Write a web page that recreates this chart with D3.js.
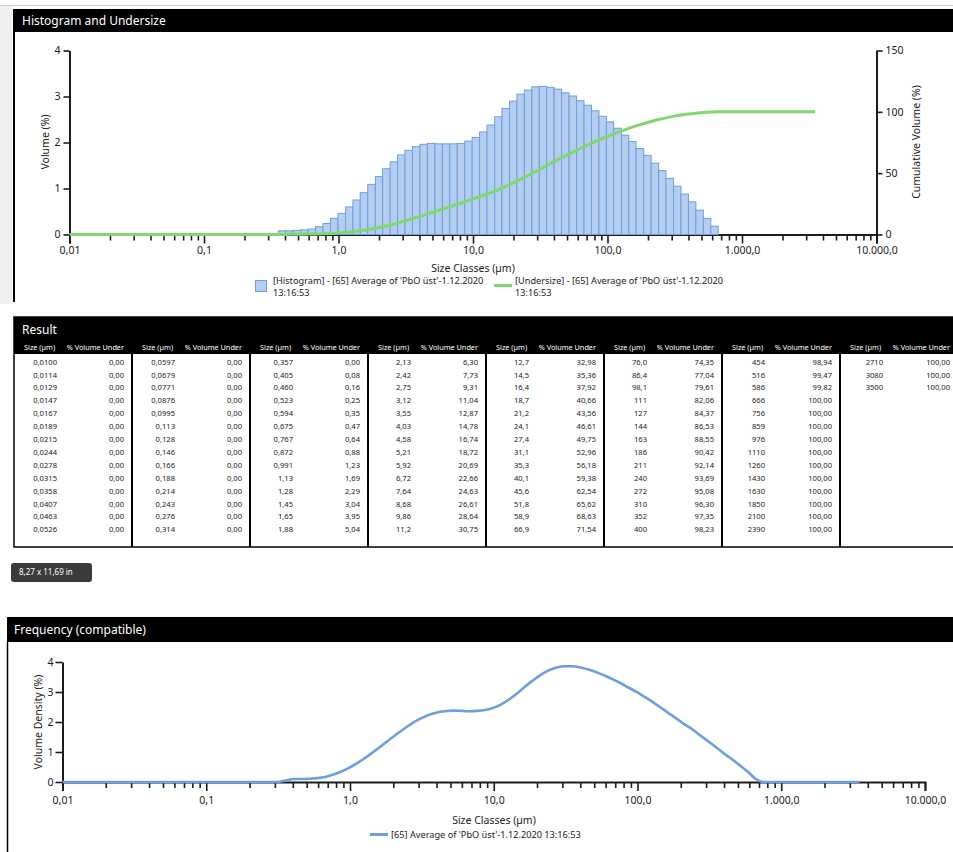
<!DOCTYPE html>
<html>
<head>
<meta charset="utf-8">
<script src="https://cdn.jsdelivr.net/npm/d3@7"></script>
<style>
  body { margin: 0; background: #fff; }
  svg text { font-family: "Noto Sans", "Open Sans", sans-serif; }
</style>
</head>
<body>
<svg id="page" width="953" height="852"></svg>
<script>
// size classes (µm) and cumulative undersize (%) as listed in the Result table
const sizeClasses = [
  0.0100, 0.0114, 0.0129, 0.0147, 0.0167, 0.0189, 0.0215, 0.0244, 0.0278, 0.0315, 0.0358, 0.0407, 0.0463, 0.0526,
  0.0597, 0.0679, 0.0771, 0.0876, 0.0995, 0.113, 0.128, 0.146, 0.166, 0.188, 0.214, 0.243, 0.276, 0.314,
  0.357, 0.405, 0.460, 0.523, 0.594, 0.675, 0.767, 0.872, 0.991, 1.13, 1.28, 1.45, 1.65, 1.88,
  2.13, 2.42, 2.75, 3.12, 3.55, 4.03, 4.58, 5.21, 5.92, 6.72, 7.64, 8.68, 9.86, 11.2,
  12.7, 14.5, 16.4, 18.7, 21.2, 24.1, 27.4, 31.1, 35.3, 40.1, 45.6, 51.8, 58.9, 66.9,
  76.0, 86.4, 98.1, 111, 127, 144, 163, 186, 211, 240, 272, 310, 352, 400,
  454, 516, 586, 666, 756, 859, 976, 1110, 1260, 1430, 1630, 1850, 2100, 2390,
  2710, 3080, 3500
];
const undersize = [
  0, 0, 0, 0, 0, 0, 0, 0, 0, 0, 0, 0, 0, 0,
  0, 0, 0, 0, 0, 0, 0, 0, 0, 0, 0, 0, 0, 0,
  0.00, 0.08, 0.16, 0.25, 0.35, 0.47, 0.64, 0.88, 1.23, 1.69, 2.29, 3.04, 3.95, 5.04,
  6.30, 7.73, 9.31, 11.04, 12.87, 14.78, 16.74, 18.72, 20.69, 22.66, 24.63, 26.61, 28.64, 30.75,
  32.98, 35.36, 37.92, 40.66, 43.56, 46.61, 49.75, 52.96, 56.18, 59.38, 62.54, 65.62, 68.63, 71.54,
  74.35, 77.04, 79.61, 82.06, 84.37, 86.53, 88.55, 90.42, 92.14, 93.69, 95.08, 96.30, 97.35, 98.23,
  98.94, 99.47, 99.82, 100, 100, 100, 100, 100, 100, 100, 100, 100, 100, 100,
  100, 100, 100
];
// volume (%) in each class, bin i spans sizeClasses[i]..sizeClasses[i+1]
const histogram = [
  0, 0, 0, 0, 0, 0, 0, 0, 0, 0, 0, 0, 0, 0, 0, 0, 0, 0, 0, 0, 0, 0, 0, 0, 0, 0, 0, 0,
  0.08, 0.08, 0.09, 0.10, 0.12, 0.17, 0.24, 0.35, 0.46, 0.60,
  0.75, 0.91, 1.09, 1.26, 1.43, 1.58, 1.73, 1.83, 1.91, 1.96,
  1.98, 1.97, 1.97, 1.97, 1.98, 2.03, 2.11, 2.23, 2.38, 2.56,
  2.74, 2.90, 3.05, 3.14, 3.21, 3.22, 3.20, 3.16, 3.08, 3.01,
  2.91, 2.81, 2.69, 2.57, 2.45, 2.31, 2.16, 2.02, 1.87, 1.72,
  1.55, 1.39, 1.22, 1.05, 0.88, 0.71, 0.53, 0.35, 0.18,
  0, 0, 0, 0, 0, 0, 0, 0, 0, 0, 0, 0, 0
];
// volume density (%), one value per size class
const density = [
  0, 0, 0, 0, 0, 0, 0, 0, 0, 0, 0, 0, 0, 0, 0, 0, 0, 0, 0, 0, 0, 0, 0, 0, 0, 0, 0, 0,
  0.05, 0.10, 0.10, 0.11, 0.13, 0.17, 0.25, 0.35, 0.48, 0.64,
  0.81, 1.00, 1.20, 1.41, 1.61, 1.80, 1.98, 2.12, 2.24, 2.32,
  2.36, 2.38, 2.37, 2.36, 2.37, 2.40, 2.47, 2.58, 2.74, 2.95,
  3.17, 3.38, 3.57, 3.72, 3.82, 3.86, 3.86, 3.82, 3.75, 3.66,
  3.55, 3.43, 3.30, 3.15, 3.01, 2.85, 2.67, 2.49, 2.31, 2.12,
  1.93, 1.76, 1.56, 1.36, 1.16, 0.95, 0.76, 0.55, 0.34, 0.10,
  0, 0, 0, 0, 0, 0, 0, 0, 0, 0, 0, 0, 0
];

const xMajor = [0.01, 0.1, 1, 10, 100, 1000, 10000];
const xTickLabels = ["0,01", "0,1", "1,0", "10,0", "100,0", "1.000,0", "10.000,0"];
const volumeTicks = [0, 1, 2, 3, 4];
const cumulativeTicks = [0, 50, 100, 150];
const sampleName = "[65] Average of 'PbO üst'-1.12.2020";
const sampleTime = "13:16:53";

const locale = d3.formatLocale({ decimal: ",", thousands: ".", grouping: [3], currency: ["", ""] });
const fmtSize = locale.format(".3r");
const fmtPct = locale.format(".2f");
const fmtInt = d3.format("d");

const svg = d3.select("#page");
const ink = "#1c1c1c";

// log ticks 1..9 per decade
const xMinor = [];
xMajor.slice(0, -1).forEach(d => { for (let k = 1; k < 10; k++) xMinor.push(d * k); });
xMinor.push(10000);

function styleAxis(g) {
  g.select(".domain").attr("stroke", ink).attr("stroke-width", 2);
  g.selectAll(".tick line").attr("stroke", ink).attr("stroke-width", 1.6);
  g.selectAll(".tick text").attr("fill", "#222").style("font-size", "10.5px");
}

function logAxis(g, x, tickLen, pad) {
  const lab = new Map(xMajor.map((d, i) => [d, xTickLabels[i]]));
  g.call(d3.axisBottom(x).tickValues(xMinor).tickSizeOuter(0).tickSize(tickLen).tickPadding(pad)
    .tickFormat(d => lab.has(+d.toPrecision(6)) ? lab.get(+d.toPrecision(6)) : ""));
  g.selectAll(".tick line").attr("y2", d => lab.has(+d.toPrecision(6)) ? tickLen : tickLen - 3);
  styleAxis(g);
}

// ---------- page chrome ----------
svg.append("line").attr("x1", 0).attr("x2", 953).attr("y1", 5.5).attr("y2", 5.5).attr("stroke", "#cfcfcf");
svg.append("rect").attr("x", 0).attr("y", 6).attr("width", 12).attr("height", 298).attr("fill", "#f0f0f0");

// ---------- panel 1: histogram and undersize ----------
svg.append("rect").attr("x", 13).attr("y", 9).attr("width", 940).attr("height", 23).attr("fill", "#000");
svg.append("text").attr("x", 22).attr("y", 21).attr("dy", "0.35em").attr("fill", "#fff")
  .style("font-size", "12px").text("Histogram and Undersize");
svg.append("line").attr("x1", 14).attr("x2", 14).attr("y1", 32).attr("y2", 302).attr("stroke", "#000").attr("stroke-width", 2);

const x1 = d3.scaleLog().domain([0.01, 10000]).range([69.5, 876.5]);
const yL = d3.scaleLinear().domain([0, 4]).range([234.5, 50.5]);
const yR = d3.scaleLinear().domain([0, 150]).range([234.5, 50.5]);

svg.append("g").attr("transform", "translate(0,234.5)").call(g => logAxis(g, x1, 9, 3));
svg.append("g").attr("transform", "translate(69.5,0)")
  .call(d3.axisLeft(yL).tickValues(volumeTicks).tickFormat(fmtInt).tickSize(6).tickPadding(3).tickSizeOuter(0))
  .call(styleAxis);
svg.append("g").attr("transform", "translate(876.5,0)")
  .call(d3.axisRight(yR).tickValues(cumulativeTicks).tickFormat(fmtInt).tickSize(6).tickPadding(3).tickSizeOuter(0))
  .call(styleAxis);

svg.append("g").selectAll("rect")
  .data(histogram)
  .join("rect")
  .attr("x", (d, i) => x1(sizeClasses[i]))
  .attr("width", (d, i) => x1(sizeClasses[i + 1]) - x1(sizeClasses[i]))
  .attr("y", d => yL(d))
  .attr("height", d => yL(0) - yL(d))
  .attr("fill", "#b5cef0")
  .attr("stroke", "#6e9fe2")
  .attr("stroke-width", 1);

svg.append("path")
  .datum(sizeClasses.map((s, i) => [s, undersize[i]]))
  .attr("fill", "none")
  .attr("stroke", "#7ed86c")
  .attr("stroke-width", 3)
  .attr("d", d3.line().x(d => x1(d[0])).y(d => yR(d[1])).curve(d3.curveMonotoneX));

svg.append("text").attr("transform", "translate(45,142) rotate(-90)").attr("text-anchor", "middle")
  .attr("dy", "0.35em").attr("fill", "#222").style("font-size", "10.5px").text("Volume (%)");
svg.append("text").attr("transform", "translate(916,142) rotate(-90)").attr("text-anchor", "middle")
  .attr("dy", "0.35em").attr("fill", "#222").style("font-size", "10.5px").text("Cumulative Volume (%)");
svg.append("text").attr("x", 473).attr("y", 268).attr("text-anchor", "middle").attr("dy", "0.35em")
  .attr("fill", "#222").style("font-size", "10.5px").text("Size Classes (µm)");

// legend
svg.append("rect").attr("x", 255.5).attr("y", 280.5).attr("width", 11).attr("height", 11)
  .attr("fill", "#b5cef0").attr("stroke", "#6e9fe2");
const leg1 = svg.append("text").attr("x", 273).attr("y", 281).attr("fill", "#222").style("font-size", "9.2px");
leg1.append("tspan").attr("x", 273).attr("dy", "0.35em").text("[Histogram] - " + sampleName);
leg1.append("tspan").attr("x", 273).attr("dy", "12").text(sampleTime);
svg.append("line").attr("x1", 494).attr("x2", 512).attr("y1", 285.5).attr("y2", 285.5)
  .attr("stroke", "#7ed86c").attr("stroke-width", 3);
const leg2 = svg.append("text").attr("x", 515).attr("y", 281).attr("fill", "#222").style("font-size", "9.2px");
leg2.append("tspan").attr("x", 515).attr("dy", "0.35em").text("[Undersize] - " + sampleName);
leg2.append("tspan").attr("x", 515).attr("dy", "12").text(sampleTime);

// ---------- panel 2: result table ----------
const tTop = 317, tHead = 354, tBottom = 547, tLeft = 14, colW = 118, rowsPerCol = 14;
svg.append("rect").attr("x", tLeft).attr("y", tTop).attr("width", 953 - tLeft + 2).attr("height", tBottom - tTop)
  .attr("fill", "#fff").attr("stroke", "#000").attr("stroke-width", 1.5);
svg.append("rect").attr("x", tLeft).attr("y", tTop).attr("width", 953 - tLeft).attr("height", tHead - tTop).attr("fill", "#000");
svg.append("text").attr("x", 22).attr("y", 330).attr("dy", "0.35em").attr("fill", "#fff")
  .style("font-size", "12px").text("Result");

const nCols = Math.ceil(sizeClasses.length / rowsPerCol);
const cols = d3.range(nCols);
const tbl = svg.append("g");
tbl.selectAll("line.sep").data(cols.slice(1)).join("line")
  .attr("x1", c => tLeft + c * colW).attr("x2", c => tLeft + c * colW)
  .attr("y1", tHead).attr("y2", tBottom).attr("stroke", "#000").attr("stroke-width", 2);
tbl.selectAll("text.h1").data(cols).join("text")
  .attr("x", c => tLeft + c * colW + 10).attr("y", 347).attr("dy", "0.35em")
  .attr("fill", "#fff").style("font-size", "7.3px").text("Size (µm)");
tbl.selectAll("text.h2").data(cols).join("text")
  .attr("x", c => tLeft + c * colW + 110).attr("y", 347).attr("dy", "0.35em").attr("text-anchor", "end")
  .attr("fill", "#fff").style("font-size", "7.3px").text("% Volume Under");

const cells = sizeClasses.map((s, i) => ({ s, u: undersize[i], c: Math.floor(i / rowsPerCol), r: i % rowsPerCol }));
const rowY = r => 362 + r * 12.9;
tbl.selectAll("text.sz").data(cells).join("text")
  .attr("x", d => tLeft + d.c * colW + 43).attr("y", d => rowY(d.r)).attr("dy", "0.35em")
  .attr("text-anchor", "end").attr("fill", "#222").style("font-size", "7.6px").text(d => fmtSize(d.s));
tbl.selectAll("text.pc").data(cells).join("text")
  .attr("x", d => tLeft + d.c * colW + 110).attr("y", d => rowY(d.r)).attr("dy", "0.35em")
  .attr("text-anchor", "end").attr("fill", "#222").style("font-size", "7.6px").text(d => fmtPct(d.u));

// page size badge
svg.append("rect").attr("x", 11).attr("y", 563).attr("width", 81).attr("height", 19).attr("rx", 3)
  .attr("fill", "#3b3b3b");
svg.append("text").attr("x", 19).attr("y", 572.5).attr("dy", "0.35em").attr("fill", "#fff")
  .style("font-size", "8px").text("8,27 x 11,69 in");

// ---------- panel 3: frequency (compatible) ----------
svg.append("rect").attr("x", 7).attr("y", 617).attr("width", 946).attr("height", 25).attr("fill", "#000");
svg.append("text").attr("x", 14).attr("y", 630).attr("dy", "0.35em").attr("fill", "#fff")
  .style("font-size", "12px").text("Frequency (compatible)");
svg.append("line").attr("x1", 7.5).attr("x2", 7.5).attr("y1", 642).attr("y2", 852).attr("stroke", "#000").attr("stroke-width", 1.5);

const x2 = d3.scaleLog().domain([0.01, 10000]).range([62.5, 925]);
const y2 = d3.scaleLinear().domain([0, 4]).range([782, 662]);

svg.append("g").attr("transform", "translate(0,782)").call(g => logAxis(g, x2, 9, 6));
svg.append("g").attr("transform", "translate(62.5,0)")
  .call(d3.axisLeft(y2).tickValues(volumeTicks).tickFormat(fmtInt).tickSize(7).tickPadding(2).tickSizeOuter(0))
  .call(styleAxis);

svg.append("path")
  .datum(sizeClasses.map((s, i) => [s, density[i]]))
  .attr("fill", "none")
  .attr("stroke", "#6a9fe2")
  .attr("stroke-width", 2.6)
  .attr("d", d3.line().x(d => x2(d[0])).y(d => y2(d[1])).curve(d3.curveMonotoneX));

svg.append("text").attr("transform", "translate(38,722) rotate(-90)").attr("text-anchor", "middle")
  .attr("dy", "0.35em").attr("fill", "#222").style("font-size", "10.5px").text("Volume Density (%)");
svg.append("text").attr("x", 494).attr("y", 820).attr("text-anchor", "middle").attr("dy", "0.35em")
  .attr("fill", "#222").style("font-size", "10.5px").text("Size Classes (µm)");
svg.append("line").attr("x1", 370).attr("x2", 388).attr("y1", 834.5).attr("y2", 834.5)
  .attr("stroke", "#6a9fe2").attr("stroke-width", 3);
svg.append("text").attr("x", 391).attr("y", 834.5).attr("dy", "0.35em").attr("fill", "#222")
  .style("font-size", "9.2px").text(sampleName + " " + sampleTime);
</script>
</body>
</html>
